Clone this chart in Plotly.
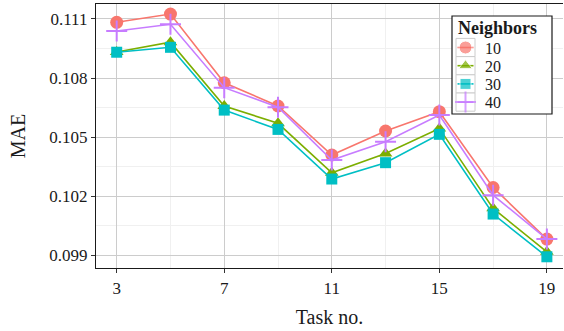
import plotly.graph_objects as go

tasks = [3, 5, 7, 9, 11, 13, 15, 17, 19]
mae_10 = [0.11083, 0.11125, 0.10776, 0.10658, 0.10409, 0.10531, 0.10629, 0.10244, 0.09982]
mae_20 = [0.10932, 0.10982, 0.10658, 0.10570, 0.10319, 0.10417, 0.10544, 0.10138, 0.09917]
mae_30 = [0.10931, 0.10956, 0.10637, 0.10539, 0.10287, 0.10370, 0.10514, 0.10109, 0.09892]
mae_40 = [0.11039, 0.11073, 0.10751, 0.10652, 0.10383, 0.10476, 0.10612, 0.10205, 0.09982]
series_names = ["10", "20", "30", "40"]
legend_title = "Neighbors"
x_ticks = [3, 7, 11, 15, 19]
y_ticks = [0.099, 0.102, 0.105, 0.108, 0.111]

colors = ["#F8766D", "#7CAE00", "#00BFC4", "#C77CFF"]
symbols = ["circle", "triangle-up", "square", "cross-thin"]
sizes = [13, 12, 11, 15]

W, H = 564, 331
ML, MR, MT, MB = 96, 1, 4, 63
X_RANGE = [2.23, 19.6]
Y_RANGE = [0.09835, 0.11176]
font_family = "Liberation Serif"
ink = "#1a1a1a"


def px_x(px):
    """page pixel -> x data coordinate"""
    return X_RANGE[0] + (px - ML) / (W - MR - ML) * (X_RANGE[1] - X_RANGE[0])


def px_y(py):
    """page pixel -> y data coordinate"""
    return Y_RANGE[0] + (H - MB - py) / (H - MB - MT) * (Y_RANGE[1] - Y_RANGE[0])


fig = go.Figure()
all_vals = [mae_10, mae_20, mae_30, mae_40]
for name, vals, c, s, sz in zip(series_names, all_vals, colors, symbols, sizes):
    marker = dict(color=c, symbol=s, size=sz)
    if s == "cross-thin":
        marker["line"] = dict(color=c, width=2)
    fig.add_trace(go.Scatter(x=tasks, y=vals, mode="lines+markers", name=name,
                             line=dict(color=c, width=1.6), marker=marker,
                             showlegend=False))

# ---- hand-built legend box (ggplot style) ----
box_l, box_r, box_t, box_b = 452, 552, 16, 114
row_h = 18.2
first_row_c = 47.5
key_l, key_r = 456, 475
label_x = 483

fig.add_shape(type="rect", xref="x", yref="y", x0=px_x(box_l), x1=px_x(box_r),
              y0=px_y(box_t), y1=px_y(box_b),
              line=dict(color=ink, width=1.2), fillcolor="white", layer="between")
fig.add_annotation(xref="x", yref="y", x=px_x(box_l + 4), y=px_y(27.5),
                   text="<b>" + legend_title + "</b>",
                   showarrow=False, xanchor="left", yanchor="middle",
                   font=dict(family=font_family, size=18, color=ink))
for i, (name, c, s, sz) in enumerate(zip(series_names, colors, symbols, sizes)):
    yc = first_row_c + i * row_h
    fig.add_shape(type="rect", xref="x", yref="y", x0=px_x(key_l), x1=px_x(key_r),
                  y0=px_y(yc - row_h / 2), y1=px_y(yc + row_h / 2),
                  line=dict(color="#cccccc", width=1), fillcolor="white", layer="between")
    marker = dict(color=c, symbol=s, size=[0, sz, 0])
    if s == "cross-thin":
        marker["line"] = dict(color=c, width=2)
    fig.add_trace(go.Scatter(x=[px_x(key_l + 1.5), px_x((key_l + key_r) / 2), px_x(key_r - 1.5)],
                             y=[px_y(yc)] * 3, mode="lines+markers",
                             line=dict(color=c, width=1.6), marker=marker,
                             showlegend=False, hoverinfo="skip"))
    fig.add_annotation(xref="x", yref="y", x=px_x(label_x), y=px_y(yc + 0.5), text=name,
                       showarrow=False, xanchor="left", yanchor="middle",
                       font=dict(family=font_family, size=16, color=ink))

fig.update_layout(
    width=W, height=H,
    margin=dict(l=ML, r=MR, t=MT, b=MB),
    paper_bgcolor="white", plot_bgcolor="white",
    font=dict(family=font_family, color=ink, size=17),
    showlegend=False,
)
fig.update_xaxes(
    range=X_RANGE, tickvals=x_ticks, ticktext=[str(v) for v in x_ticks],
    showgrid=True, gridcolor="#cccccc", gridwidth=1,
    minor=dict(tickvals=[5, 9, 13, 17], showgrid=True, gridcolor="#f0f0f0", gridwidth=1),
    showline=True, linecolor=ink, linewidth=1.2, mirror=True,
    ticks="outside", ticklen=4, tickcolor="#333333",
    title=dict(text="Task no.", font=dict(size=20, family=font_family), standoff=13),
    zeroline=False,
    tickfont=dict(size=17, family=font_family, color=ink),
)
fig.update_yaxes(
    range=Y_RANGE, tickvals=y_ticks, tickformat=".3f",
    showgrid=True, gridcolor="#cccccc", gridwidth=1,
    minor=dict(tickvals=[0.1005, 0.1035, 0.1065, 0.1095], showgrid=True, gridcolor="#f0f0f0", gridwidth=1),
    showline=True, linecolor=ink, linewidth=1.2, mirror=False,
    ticks="outside", ticklen=4, tickcolor="#333333",
    title=dict(text="MAE", font=dict(size=20, family=font_family), standoff=18),
    zeroline=False,
    tickfont=dict(size=17, family=font_family, color=ink),
)

fig.write_html("out.html")
